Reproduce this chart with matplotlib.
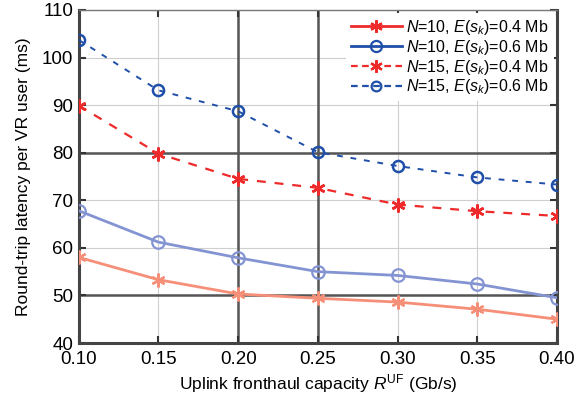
import matplotlib
matplotlib.use("Agg")
import matplotlib.pyplot as plt
from matplotlib.lines import Line2D

plt.rcParams['font.family'] = ['Liberation Sans', 'DejaVu Sans']
plt.rcParams['mathtext.fontset'] = 'custom'
plt.rcParams['mathtext.rm'] = 'Liberation Sans'
plt.rcParams['mathtext.it'] = 'Liberation Sans:italic'

# Uplink fronthaul capacity (Gb/s)
capacity = [0.10, 0.15, 0.20, 0.25, 0.30, 0.35, 0.40]

# Round-trip latency per VR user (ms)
lat_n10_04 = [58.0, 53.3, 50.3, 49.4, 48.6, 47.1, 45.0]
lat_n10_06 = [67.8, 61.2, 57.9, 55.0, 54.2, 52.4, 49.5]
lat_n15_04 = [89.9, 79.8, 74.5, 72.6, 69.1, 67.7, 66.7]
lat_n15_06 = [103.7, 93.1, 88.7, 80.1, 77.2, 74.8, 73.3]

labels = [r"$N$=10, $E(s_k)$=0.4 Mb",
          r"$N$=10, $E(s_k)$=0.6 Mb",
          r"$N$=15, $E(s_k)$=0.4 Mb",
          r"$N$=15, $E(s_k)$=0.6 Mb"]

x_ticks = [0.10, 0.15, 0.20, 0.25, 0.30, 0.35, 0.40]
y_ticks = [40, 50, 60, 70, 80, 90, 100, 110]

RED = '#ee2a2a'
BLUE = '#1f4fa8'
LIGHT_RED = '#f68f78'
LIGHT_BLUE = '#8494d2'
ASTER = (6, 2, 0)

fig = plt.figure(figsize=(5.79, 3.97), dpi=100)
ax = fig.add_axes([0.136, 0.136, 0.826, 0.839])

# light grid everywhere, a few heavier lines
for xv in x_ticks:
    ax.axvline(xv, color='#cfcfcf', lw=0.8, zorder=0)
for yv in y_ticks:
    ax.axhline(yv, color='#cfcfcf', lw=0.8, zorder=0)
for xv in [0.20, 0.25]:
    ax.axvline(xv, color='#555555', lw=1.8, zorder=0.5)
for yv in [50, 80]:
    ax.axhline(yv, color='#555555', lw=1.8, zorder=0.5)

ax.plot(capacity, lat_n10_04, color=LIGHT_RED, lw=2.0, marker=ASTER,
        ms=10, mew=1.6, zorder=3)
ax.plot(capacity, lat_n10_06, color=LIGHT_BLUE, lw=2.0, marker='o',
        ms=9, mfc='none', mew=1.6, zorder=3)
ax.plot(capacity, lat_n15_04, color=RED, lw=1.6, ls=(0, (4, 4)),
        marker=ASTER, ms=10, mew=1.8, zorder=3)
ax.plot(capacity, lat_n15_06, color=BLUE, lw=1.4, ls=(0, (3, 4)),
        marker='o', ms=8, mfc='none', mew=1.8, zorder=3)

ax.set_xlim(0.10, 0.40)
ax.set_ylim(40, 110)
ax.set_xticks(x_ticks)
ax.set_xticklabels([f"{v:.2f}" for v in x_ticks])
ax.set_yticks(y_ticks)

for side in ['left', 'bottom', 'right']:
    ax.spines[side].set_color('#444444')
    ax.spines[side].set_linewidth(2.2)
ax.spines['top'].set_color('#777777')
ax.spines['top'].set_linewidth(1.0)

ax.tick_params(direction='in', length=5, width=1.5, color='#333333',
               top=True, right=True, labelsize=13.5)
ax.tick_params(axis='x', pad=6)
ax.tick_params(axis='y', pad=4)

ax.set_xlabel(r"Uplink fronthaul capacity $R^{\mathrm{UF}}$ (Gb/s)",
              fontsize=12.5, labelpad=3)
ax.set_ylabel("Round-trip latency per VR user (ms)", fontsize=12.5, labelpad=8)

handles = [
    Line2D([], [], color=RED, lw=2.0, marker=ASTER, ms=9, mew=1.6),
    Line2D([], [], color=BLUE, lw=2.0, marker='o', ms=8, mfc='none', mew=1.6),
    Line2D([], [], color=RED, lw=1.6, ls=(0, (3, 2)), marker=ASTER, ms=9, mew=1.6),
    Line2D([], [], color=BLUE, lw=1.6, ls=(0, (3, 2)), marker='o', ms=7, mfc='none', mew=1.6),
]
leg = ax.legend(handles, labels, loc='upper right', fontsize=11.5,
                frameon=True, framealpha=1, edgecolor='none', fancybox=False,
                handlelength=3.2, handletextpad=0.3, labelspacing=0.05,
                borderpad=0.3, borderaxespad=0.2)
leg.set_zorder(5)

fig.savefig("out.png", dpi=100)
